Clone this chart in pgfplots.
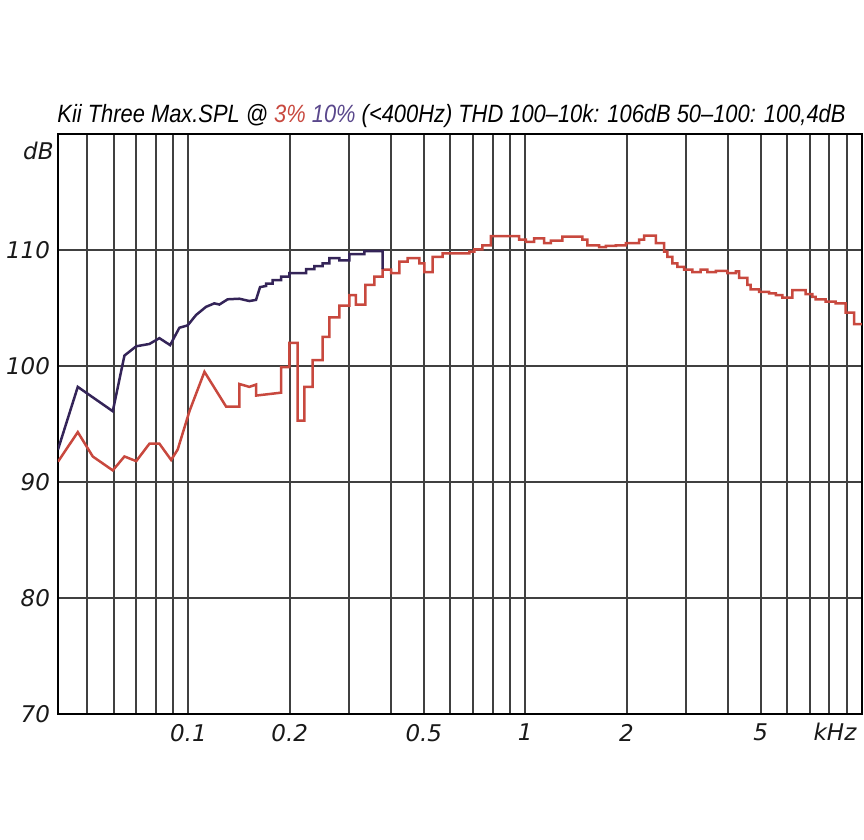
\documentclass[border=0pt]{standalone}
\usepackage{pgfplots}
\pgfplotsset{compat=1.18}
\usepackage{fontspec}
\setmainfont{DejaVu Sans}
\newfontfamily\labfont{DejaVu Sans}
\newfontfamily\titlefont{Liberation Sans}[FakeStretch=0.875]
\definecolor{redc}{RGB}{200,72,62}
\definecolor{purc}{RGB}{52,36,88}
\definecolor{purt}{RGB}{90,72,140}
\begin{document}
\begin{tikzpicture}
\path[use as bounding box] (-29pt,-63pt) rectangle (403pt,357pt);
\begin{axis}[
  at={(0,0)}, anchor=south west,
  width=402pt, height=290pt, scale only axis,
  xmode=log, log basis x=10,
  xmin=0.041, xmax=10, ymin=70, ymax=120,
  xtick={0.05,0.06,0.07,0.08,0.09,0.1,0.2,0.3,0.4,0.5,0.6,0.7,0.8,0.9,1,2,3,4,5,6,7,8,9},
  xticklabels={,,,,,0.1,0.2,,,0.5,,,,,1,2,,,5,,,,},
  ytick={70,80,90,100,110},
  yticklabels={70,80,90,100,110},
  major tick length=0pt, minor tick length=0pt,
  xmajorgrids, ymajorgrids,
  grid style={black!75, line width=1pt},
  axis line style={black, line width=0.9pt},
  tick label style={font=\labfont\itshape\fontsize{11.5}{12}\selectfont, text=black!90},
  xticklabel style={yshift=-1.5pt},
  yticklabel style={xshift=-0.5pt},
  clip=true,
]
\addplot[redc, line width=1.25pt] coordinates {
(0.041,91.75)(0.04694,94.3)(0.0520,92.2)(0.05963,91.0)(0.06458,92.2)(0.0700,91.8)
(0.07661,93.3)(0.08202,93.3)(0.08887,91.9)(0.09295,92.8)(0.1007,96.1)(0.1116,99.5)
(0.1294,96.5)(0.1417,96.5)(0.1417,98.45)(0.1517,98.2)(0.1588,98.4)(0.1588,97.45)
(0.1884,97.7)(0.1884,99.9)(0.1994,99.9)(0.1994,102.0)(0.2110,102.0)(0.2110,95.3)
(0.2209,95.3)(0.2209,98.2)(0.2338,98.2)(0.2338,100.5)(0.2503,100.5)(0.2503,102.5)
(0.2620,102.5)(0.2620,104.2)(0.2806,104.2)(0.2806,105.2)(0.3004,105.2)(0.3004,106.1)
(0.3145,106.1)(0.3145,105.3)(0.3351,105.3)(0.3351,107.0)(0.3564,107.0)(0.3564,107.7)
(0.3772,107.7)(0.3772,108.3)(0.3996,108.3)(0.3996,108.0)(0.4228,108.0)(0.4228,109.0)
(0.4474,109.0)(0.4474,109.3)(0.4849,109.3)(0.4849,108.85)(0.5017,108.85)(0.5017,108.1)
(0.5309,108.1)(0.5309,109.4)(0.5684,109.4)(0.5684,109.7)(0.6822,109.7)(0.6822,109.85)
(0.7060,109.85)(0.7060,110.05)(0.7467,110.05)(0.7467,110.4)(0.7911,110.4)(0.7911,111.2)
(0.9598,111.2)(0.9598,110.9)(1.005,110.9)(1.005,110.7)(1.063,110.7)(1.063,111.0)
(1.139,111.0)(1.139,110.6)(1.192,110.6)(1.192,110.8)(1.290,110.8)(1.290,111.15)
(1.479,111.15)(1.479,110.9)(1.530,110.9)(1.530,110.4)(1.658,110.4)(1.658,110.25)
(1.736,110.25)(1.736,110.35)(1.858,110.35)(1.858,110.4)(1.990,110.4)(1.990,110.6)
(2.179,110.6)(2.179,110.9)(2.255,110.9)(2.255,111.25)(2.443,111.25)(2.443,110.6)
(2.585,110.6)(2.585,109.85)(2.644,109.85)(2.644,109.4)(2.736,109.4)(2.736,108.85)
(2.831,108.85)(2.831,108.55)(2.964,108.55)(2.964,108.3)(3.136,108.3)(3.136,108.1)
(3.321,108.1)(3.321,108.3)(3.474,108.3)(3.474,108.1)(3.680,108.1)(3.680,108.2)
(3.984,108.2)(3.984,108.0)(4.220,108.0)(4.220,108.15)(4.315,108.15)(4.315,107.6)
(4.566,107.6)(4.566,107.0)(4.673,107.0)(4.673,106.6)(4.947,106.6)(4.947,106.4)
(5.297,106.4)(5.297,106.25)(5.546,106.25)(5.546,106.1)(5.801,106.1)(5.801,105.9)
(6.213,105.9)(6.213,106.55)(6.807,106.55)(6.807,106.2)(7.121,106.2)(7.121,105.95)
(7.288,105.95)(7.288,105.75)(7.805,105.75)(7.805,105.55)(8.356,105.55)(8.356,105.4)
(8.944,105.4)(8.944,104.6)(9.469,104.6)(9.469,103.6)(10,103.6)
};
\addplot[purc, line width=1.25pt] coordinates {
(0.041,92.8)(0.04694,98.2)(0.05963,96.1)(0.06458,100.9)(0.0700,101.7)(0.07661,101.9)
(0.08202,102.4)(0.08826,101.8)(0.09089,102.5)(0.09404,103.3)(0.0995,103.5)(0.1054,104.4)
(0.1128,105.1)(0.1194,105.4)(0.1236,105.3)(0.1308,105.75)(0.1417,105.8)(0.1517,105.6)
(0.1588,105.7)(0.1632,106.8)(0.1701,106.9)(0.1701,107.1)(0.1779,107.1)(0.1779,107.4)
(0.1884,107.4)(0.1884,107.7)(0.1994,107.7)(0.1994,108.0)(0.2235,108.0)(0.2235,108.35)
(0.2365,108.35)(0.2365,108.6)(0.2503,108.6)(0.2503,108.85)(0.2620,108.85)(0.2620,109.3)
(0.2806,109.3)(0.2806,109.1)(0.3004,109.1)(0.3004,109.65)(0.3329,109.65)(0.3329,109.9)
(0.3772,109.9)(0.3772,108.35)
};
\end{axis}
\node[anchor=north east, font=\labfont\itshape\fontsize{11.5}{12}\selectfont, text=black!90, inner sep=0pt] at (-2pt,286pt) {dB};
\node[anchor=base, font=\labfont\itshape\fontsize{11.5}{12}\selectfont, text=black!90, inner sep=0pt] at (388.5pt,-13.5pt) {kHz};
\node[anchor=base, font=\titlefont\itshape\fontsize{12.5}{14}\selectfont, inner sep=0pt] at (196.75pt,295.5pt)
  {Kii Three Max.SPL @ \textcolor{redc}{3\%} \textcolor{purt}{10\%} (<400Hz) THD 100–10k: 106dB 50–100: 100,4dB};
\end{tikzpicture}
\end{document}
